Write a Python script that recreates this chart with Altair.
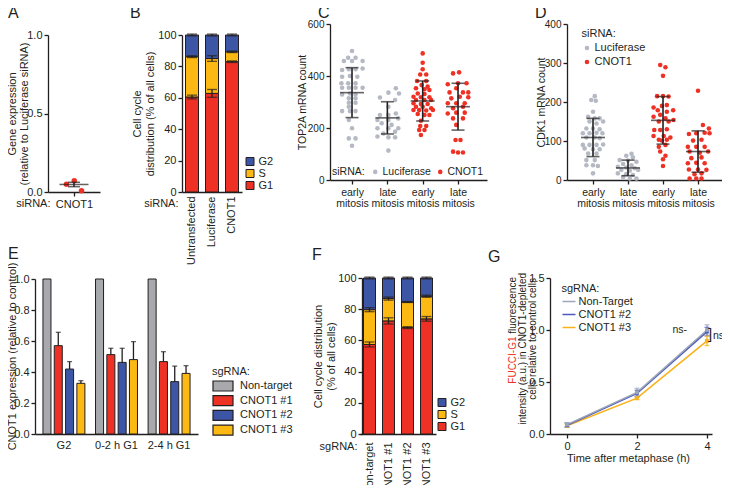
import json
import altair as alt
import pandas as pd

# ---------------- data ----------------
# A
a_categories = ["CNOT1"]
a_point_offsets = [-0.29, 0.01, 0.29]
a_point_values = [0.049, 0.072, 0.008]
a_mean = [0.048]
a_sem = [0.014]

# B
b_conditions = ["Untransfected", "Luciferase", "CNOT1"]
b_g1 = [60.5, 62.8, 83.0]
b_s = [25.7, 22.2, 6.3]
b_g2 = [13.8, 15.0, 10.7]
b_g1_err = [1.2, 2.5, 0.5]
b_s_err = [0.6, 1.8, 0.5]
b_g2_err = [0.6, 0.6, 0.6]
phases = ["G2", "S", "G1"]

# C (offset from category centre, value)
c_groups = ["early mitosis", "late mitosis", "early mitosis", "late mitosis"]
c_sirna = ["Luciferase", "Luciferase", "CNOT1", "CNOT1"]
c_luc_early = [(0, 496), (-0.11, 470), (0.10, 470), (-0.23, 458), (0, 458), (0.30, 458), (-0.28, 423),
               (-0.09, 426), (0.10, 426), (0.30, 429), (-0.28, 397), (-0.06, 400), (0.15, 397), (-0.30, 372),
               (-0.11, 372), (0.10, 372), (-0.28, 355), (-0.09, 355), (0.10, 355), (0.30, 355), (-0.28, 329),
               (-0.06, 333), (0.10, 329), (-0.09, 314), (0.10, 314), (-0.09, 297), (0.10, 297), (-0.09, 282),
               (-0.28, 265), (-0.06, 265), (0.10, 265), (-0.09, 231), (0, 199), (-0.09, 160), (0.10, 160),
               (0, 132)]
c_luc_late = [(0.24, 353), (0.03, 336), (0.33, 333), (-0.21, 317), (0.22, 308), (0.03, 282), (-0.21, 250),
              (0.03, 250), (0.24, 256), (-0.28, 231), (0.03, 231), (0.31, 237), (-0.16, 218), (0.12, 212),
              (-0.28, 199), (0.03, 199), (0.31, 199), (-0.11, 179), (0.22, 186), (-0.28, 167), (0.03, 164),
              (0.22, 164), (0.03, 113)]
c_cnot_early = [(0, 487), (0, 451), (0, 426), (-0.07, 406), (0.10, 406), (-0.16, 381), (0.10, 381),
                (-0.03, 365), (0.14, 359), (-0.19, 353), (0.05, 349), (0.19, 346), (-0.14, 333), (0.05, 331),
                (-0.26, 320), (-0.05, 318), (0.19, 318), (-0.19, 308), (0.05, 308), (0.24, 308), (-0.26, 295),
                (-0.05, 292), (0.14, 292), (-0.19, 282), (0, 282), (0.24, 276), (-0.26, 269), (-0.10, 269),
                (0.10, 267), (0.29, 269), (-0.14, 254), (0.05, 250), (0.19, 250), (-0.05, 228), (-0.07, 208),
                (0.10, 208), (-0.10, 192), (0.05, 192), (-0.05, 173)]
c_cnot_late = [(-0.14, 410), (0.03, 414), (-0.29, 368), (0, 372), (0.24, 372), (-0.24, 337), (-0.05, 353),
               (0.14, 337), (0.29, 337), (-0.19, 314), (0.05, 320), (0.29, 318), (-0.29, 295), (-0.05, 295),
               (0.19, 295), (-0.14, 276), (0.14, 282), (-0.29, 256), (-0.05, 259), (0.19, 259), (-0.14, 237),
               (0.14, 237), (-0.05, 212), (-0.07, 154), (0.07, 154), (-0.14, 109), (0, 106), (0.14, 106)]
c_mean = [336, 239, 304, 282]
c_sd = [96, 62, 77, 90]

# D
d_luc_early = [(0.05, 215), (-0.05, 205), (0.08, 203), (0, 175), (-0.14, 162), (0.05, 158), (0.19, 158),
               (-0.10, 150), (0.10, 145), (0.29, 150), (-0.19, 132), (0, 132), (0.19, 130), (-0.29, 120),
               (-0.10, 120), (0.10, 121), (0.27, 120), (-0.19, 109), (0.05, 109), (0.19, 107), (-0.29, 90),
               (-0.10, 90), (0.10, 90), (0.29, 91), (-0.24, 81), (0, 79), (0.19, 79), (-0.14, 68), (0.10, 68),
               (-0.19, 51), (0.05, 51), (-0.19, 38), (0, 38), (0.14, 36), (0, 17)]
d_luc_late = [(0.10, 67), (-0.05, 62), (0.14, 58), (-0.24, 51), (0, 50), (0.24, 47), (-0.14, 41), (0.10, 38),
              (-0.29, 34), (-0.05, 32), (0.19, 30), (-0.19, 26), (0.05, 24), (0.29, 26), (-0.29, 17),
              (-0.05, 15), (0.14, 13), (-0.14, 7), (0.05, 4), (0.24, 4)]
d_cnot_early = [(-0.08, 295), (0.07, 289), (0, 267), (-0.17, 215), (0, 215), (0.16, 214), (-0.27, 186),
                (-0.03, 190), (0.11, 192), (-0.15, 179), (0.11, 175), (0.29, 179), (-0.27, 162), (-0.08, 167),
                (0.07, 158), (-0.12, 150), (0.16, 150), (0.30, 154), (-0.25, 128), (-0.08, 128), (0.11, 130),
                (-0.27, 113), (0.02, 113), (0.21, 109), (-0.12, 103), (-0.03, 101), (0.11, 103), (-0.12, 85),
                (0.07, 90), (-0.08, 73), (0.07, 62), (0, 53), (0, 36)]
d_cnot_late = [(0, 229), (0.14, 141), (0.31, 132), (-0.26, 118), (-0.05, 120), (0.19, 121), (0.33, 120),
               (-0.14, 101), (0.10, 103), (-0.29, 85), (-0.05, 85), (0.19, 85), (-0.24, 73), (0.05, 70),
               (0.29, 73), (-0.19, 56), (0.10, 58), (-0.29, 43), (-0.05, 44), (0.19, 43), (-0.26, 27), (0, 27),
               (0.24, 26), (-0.10, 15), (0.10, 17), (-0.24, 4), (-0.05, 4), (0.10, 4)]
d_mean = [109, 31, 153, 73]
d_sd = [49, 20, 61, 53]
sirna_names = ["Luciferase", "CNOT1"]

# E
e_groups = ["G2", "0-2 h G1", "2-4 h G1"]
e_series = ["Non-target", "CNOT1 #1", "CNOT1 #2", "CNOT1 #3"]
e_nontarget = [1.0, 1.0, 1.0]
e_cnot1_1 = [0.570, 0.512, 0.467]
e_cnot1_2 = [0.419, 0.462, 0.338]
e_cnot1_3 = [0.327, 0.480, 0.391]
e_nontarget_err = [0, 0, 0]
e_cnot1_1_err = [0.086, 0.041, 0.064]
e_cnot1_2_err = [0.048, 0.091, 0.100]
e_cnot1_3_err = [0.017, 0.116, 0.050]

# F
f_conditions = ["Non-target", "CNOT1 #1", "CNOT1 #2", "CNOT1 #3"]
f_g1 = [57.4, 72.5, 68.2, 73.8]
f_s = [22.3, 14.3, 16.4, 14.5]
f_g2 = [20.3, 13.2, 15.4, 11.7]
f_g1_err = [1.6, 2.0, 0.6, 1.5]
f_s_err = [1.3, 1.0, 0.3, 0.7]
f_g2_err = [0.6, 0.6, 0.6, 0.6]

# G
g_time = [0, 2, 4]
g_series = ["Non-Target", "CNOT1 #2", "CNOT1 #3"]
g_nontarget = [0.09, 0.40, 1.00]
g_cnot1_2 = [0.085, 0.39, 0.985]
g_cnot1_3 = [0.08, 0.345, 0.895]
g_nontarget_err = [0.02, 0.04, 0.05]
g_cnot1_2_err = [0.02, 0.03, 0.04]
g_cnot1_3_err = [0.015, 0.015, 0.045]

# ---------------- style / layout ----------------
W, H = 714, 477
MARGIN = 8
INK = "#231f20"
FONT = "Liberation Sans"
RED = "#ee3124"
YELLOW = "#fdb913"
BLUE = "#3d55a5"
GREY_BAR = "#a7a9ac"
GREY_PT = "#b4b9c4"
GREY_LINE = "#9ea6ba"
BLUE_LINE = "#4a5bbd"
YELLOW_LINE = "#f9b21b"
PHASE_COLORS = [BLUE, YELLOW, RED]


def px(v):
    return v - MARGIN


def scale_q(domain, rng):
    return alt.Scale(domain=domain, range=[px(r) for r in rng], nice=False, zero=False)


def left_axis(x, values, fs, fmt=None, title=None, tx=None, ty=None, tfs=11, tlh=None):
    kw = dict(orient="left", offset=-px(x), values=values, tickSize=4, labelFontSize=fs, labelPadding=2)
    if fmt:
        kw["format"] = fmt
    if title is None:
        kw["title"] = None
    else:
        kw.update(title=title, titleX=tx - x, titleY=px(ty), titleAngle=270, titleAlign="center",
                  titleBaseline="middle", titleFontSize=tfs)
        if tlh:
            kw["titleLineHeight"] = tlh
    return alt.Axis(**kw)


def bottom_axis(y, fs, values=None, ticks=True, label_pad=2, label_angle=0, label_expr=None,
                title=None, tx=None, ty=None, tfs=11, talign="center", lh=None):
    kw = dict(orient="bottom", offset=px(y) - H, labelFontSize=fs, labelPadding=label_pad, labelAngle=label_angle)
    if values is not None:
        kw["values"] = values
    if ticks:
        kw["tickSize"] = 4
    else:
        kw.update(ticks=False, tickSize=0)
    if label_expr:
        kw["labelExpr"] = label_expr
    if lh:
        kw["labelLineHeight"] = lh
    if title is None:
        kw["title"] = None
    else:
        kw.update(title=title, titleX=px(tx), titleY=ty - y, titleAngle=0, titleAlign=talign,
                  titleBaseline="middle", titleFontSize=tfs)
    return alt.Axis(**kw)


def summary_layers(df, xenc, ys, yax, mean_w, cap_w, th=1.6):
    yv = lambda f: alt.Y(f, scale=ys, axis=yax)
    rule = alt.Chart(df).mark_rule(color=INK, strokeWidth=th).encode(x=xenc, y=yv("lo:Q"), y2="hi:Q")
    mean = alt.Chart(df).mark_tick(orient="horizontal", size=mean_w, thickness=th, color=INK).encode(
        x=xenc, y=yv("m:Q"))
    cap1 = alt.Chart(df).mark_tick(orient="horizontal", size=cap_w, thickness=th, color=INK).encode(
        x=xenc, y=yv("lo:Q"))
    cap2 = alt.Chart(df).mark_tick(orient="horizontal", size=cap_w, thickness=th, color=INK).encode(
        x=xenc, y=yv("hi:Q"))
    return [rule, mean, cap1, cap2]


# ---------------- panel A ----------------
a_df = pd.DataFrame({"x": a_point_offsets, "v": a_point_values})
a_st = pd.DataFrame({"x": [0.0], "m": a_mean, "lo": [a_mean[0] - a_sem[0]], "hi": [a_mean[0] + a_sem[0]]})
a_xs = scale_q([-1, 1], [48, 100])
a_ys = scale_q([0, 1], [192, 35])
a_xax = bottom_axis(192, 11, values=[0], label_expr=f"{json.dumps(a_categories)}[datum.value]",
                    title="siRNA:", tx=50, ty=203, talign="right")
a_yax = left_axis(48, [0, 0.5, 1], 11, fmt=".1f", title=["Gene expression", "(relative to Luciferase siRNA)"],
                  tx=12, ty=113.5, tfs=11, tlh=12)
a_x = alt.X("x:Q", scale=a_xs, axis=a_xax)
panel_a = alt.layer(
    alt.Chart(a_df).mark_circle(size=30, color=RED, opacity=1).encode(x=a_x, y=alt.Y("v:Q", scale=a_ys, axis=a_yax)),
    *summary_layers(a_st, a_x, a_ys, a_yax, 29, 12, 1.5),
)


# ---------------- stacked panels B and F ----------------
def stacked_frame(conds, g1, s, g2, e1, es, e2):
    rows = []
    for i, c in enumerate(conds):
        lo = 0.0
        for ph, v, e in (("G1", g1[i], e1[i]), ("S", s[i], es[i]), ("G2", g2[i], e2[i])):
            hi = lo + v
            rows.append(dict(cond=c, phase=ph, lo=lo, hi=hi, elo=hi - e, ehi=hi + e))
            lo = hi
    return pd.DataFrame(rows)


def stacked_panel(df, conds, xs, xax, ys, yax, bar_w, cap_w, legend):
    xenc = alt.X("cond:N", scale=xs, axis=xax, sort=conds)
    yv = lambda f: alt.Y(f, scale=ys, axis=yax)
    bars = alt.Chart(df).mark_bar(size=bar_w, stroke=INK, strokeWidth=1).encode(
        x=xenc, y=yv("lo:Q"), y2="hi:Q",
        color=alt.Color("phase:N", scale=alt.Scale(domain=phases, range=PHASE_COLORS), legend=legend))
    rule = alt.Chart(df).mark_rule(color=INK, strokeWidth=1.3).encode(x=xenc, y=yv("elo:Q"), y2="ehi:Q")
    c1 = alt.Chart(df).mark_tick(orient="horizontal", size=cap_w, thickness=1.3, color=INK).encode(x=xenc, y=yv("elo:Q"))
    c2 = alt.Chart(df).mark_tick(orient="horizontal", size=cap_w, thickness=1.3, color=INK).encode(x=xenc, y=yv("ehi:Q"))
    return alt.layer(bars, rule, c1, c2)


def phase_legend(lx, ly, row_pad):
    return alt.Legend(orient="none", legendX=px(lx), legendY=px(ly), title=None, symbolType="square",
                      symbolSize=64, symbolStrokeColor=INK, symbolStrokeWidth=1, labelFontSize=11,
                      labelOffset=3, rowPadding=row_pad, padding=0)


b_df = stacked_frame(b_conditions, b_g1, b_s, b_g2, b_g1_err, b_s_err, b_g2_err)
b_xs = alt.Scale(domain=b_conditions, range=[px(182), px(242)], paddingInner=0, paddingOuter=0)
b_ys = scale_q([0, 100], [192, 35])
b_xax = bottom_axis(192, 11, ticks=False, label_pad=4, label_angle=270, title="siRNA:", tx=178, ty=203, talign="right")
b_yax = left_axis(182, [0, 20, 40, 60, 80, 100], 11, title=["Cell cycle", "distribution (% of all cells)"],
                  tx=137, ty=113.5, tfs=11, tlh=13)
panel_b = stacked_panel(b_df, b_conditions, b_xs, b_xax, b_ys, b_yax, 13, 10, phase_legend(244.5, 156, -3.3))

f_df = stacked_frame(f_conditions, f_g1, f_s, f_g2, f_g1_err, f_s_err, f_g2_err)
f_xs = alt.Scale(domain=f_conditions, range=[px(360), px(436)], paddingInner=0, paddingOuter=0)
f_ys = scale_q([0, 100], [434, 278])
f_xax = bottom_axis(434, 11, ticks=False, label_pad=8, label_angle=270, title="sgRNA:", tx=357, ty=446, talign="right")
f_yax = left_axis(362, [0, 20, 40, 60, 80, 100], 11, title=["Cell cycle distribution", "(% of all cells)"],
                  tx=318, ty=356, tfs=11, tlh=13)
panel_f = stacked_panel(f_df, f_conditions, f_xs, f_xax, f_ys, f_yax, 12, 10, phase_legend(436.5, 397, -2.5))


# ---------------- scatter panels C and D ----------------
def scatter_frames(groups, means, sds):
    rows = []
    for gi, (pts, sirna) in enumerate(groups):
        for off, v in pts:
            rows.append({"x": gi + off, "v": v, "siRNA": sirna})
    st = pd.DataFrame({"x": list(range(len(means))), "m": means,
                       "lo": [m - s for m, s in zip(means, sds)], "hi": [m + s for m, s in zip(means, sds)]})
    return pd.DataFrame(rows), st


cat_expr = "split(" + json.dumps(c_groups) + "[datum.value], ' ')"


def scatter_panel(df, st, xs, xax, ys, yax, legend):
    xenc = alt.X("x:Q", scale=xs, axis=xax)
    pts = alt.Chart(df).mark_circle(size=21, opacity=1).encode(
        x=xenc, y=alt.Y("v:Q", scale=ys, axis=yax),
        color=alt.Color("siRNA:N", scale=alt.Scale(domain=sirna_names, range=[GREY_PT, RED]), legend=legend))
    return alt.layer(pts, *summary_layers(st, xenc, ys, yax, 24, 13, 1.6))


c_df, c_st = scatter_frames([(c_luc_early, c_sirna[0]), (c_luc_late, c_sirna[1]),
                             (c_cnot_early, c_sirna[2]), (c_cnot_late, c_sirna[3])], c_mean, c_sd)
c_xs = scale_q([-0.623, 3.82], [330, 487])
c_ys = scale_q([0, 600], [180, 24])
c_xax = bottom_axis(180, 10.5, values=[0, 1, 2, 3], label_expr=cat_expr, lh=11, label_pad=3)
c_yax = left_axis(330, [0, 200, 400, 600], 10, title="TOP2A mRNA count", tx=302, ty=102, tfs=10.5)
c_legend = alt.Legend(orient="none", legendX=px(332), legendY=px(166.5), direction="horizontal", title="siRNA:",
                      titleOrient="left", titleFontSize=10.5, labelFontSize=10.5, symbolType="circle",
                      symbolSize=21, labelOffset=2, columnPadding=4, titlePadding=5, padding=0)
panel_c = scatter_panel(c_df, c_st, c_xs, c_xax, c_ys, c_yax, c_legend)

d_df, d_st = scatter_frames([(d_luc_early, c_sirna[0]), (d_luc_late, c_sirna[1]),
                             (d_cnot_early, c_sirna[2]), (d_cnot_late, c_sirna[3])], d_mean, d_sd)
d_xs = scale_q([-0.743, 3.914], [567, 730])
d_ys = scale_q([0, 400], [180, 24])
d_xax = bottom_axis(180, 10.5, values=[0, 1, 2, 3], label_expr=cat_expr, lh=11, label_pad=3)
d_yax = left_axis(567, [0, 100, 200, 300, 400], 10, title="CDK1 mRNA count", tx=541, ty=102, tfs=10.5)
d_legend = alt.Legend(orient="none", legendX=px(581.5), legendY=px(27.5), direction="vertical", title="siRNA:",
                      titleFontSize=11, labelFontSize=11, symbolType="circle", symbolSize=21, labelOffset=2,
                      titlePadding=4, rowPadding=2, padding=0)
panel_d = scatter_panel(d_df, d_st, d_xs, d_xax, d_ys, d_yax, d_legend)

# ---------------- panel E ----------------
e_rows = []
for s_name, vals, errs in zip(e_series, [e_nontarget, e_cnot1_1, e_cnot1_2, e_cnot1_3],
                              [e_nontarget_err, e_cnot1_1_err, e_cnot1_2_err, e_cnot1_3_err]):
    for g, v, e in zip(e_groups, vals, errs):
        e_rows.append({"group": g, "series": s_name, "v": v, "top": v + e, "err": e})
e_df = pd.DataFrame(e_rows)
e_err_df = e_df[e_df["err"] > 0]
e_xs = alt.Scale(domain=e_groups, range=[px(35), px(198)], paddingInner=0, paddingOuter=0.05)
e_xo = alt.Scale(domain=e_series, paddingInner=0.29, paddingOuter=0.47)
e_ys = alt.Scale(domain=[0, 1], range=[px(434), px(279)], nice=False)
e_xax = bottom_axis(434, 11, ticks=False, label_pad=5)
e_yax = left_axis(35, [0, 0.2, 0.4, 0.6, 0.8, 1.0], 11, fmt=".1f", title="CNOT1 expression (relative to control)",
                  tx=12, ty=356, tfs=11)
e_x = alt.X("group:N", scale=e_xs, axis=e_xax, sort=e_groups)
e_off = alt.XOffset("series:N", scale=e_xo, sort=e_series)
e_legend = alt.Legend(orient="none", legendX=px(212), legendY=px(366), title="sgRNA:", titleFontSize=11,
                      labelFontSize=11, symbolType="M-1,-1H3V1H-1Z", symbolSize=100, symbolStrokeColor=INK,
                      symbolStrokeWidth=1.2, labelOffset=16, rowPadding=-1.3, titlePadding=3, padding=0)
panel_e = alt.layer(
    alt.Chart(e_df).mark_bar(stroke=INK, strokeWidth=1).encode(
        x=e_x, xOffset=e_off, y=alt.Y("v:Q", scale=e_ys, axis=e_yax),
        color=alt.Color("series:N", scale=alt.Scale(domain=e_series, range=[GREY_BAR, RED, BLUE, YELLOW]),
                        legend=e_legend)),
    alt.Chart(e_err_df).mark_rule(color=INK, strokeWidth=1.3).encode(
        x=e_x, xOffset=e_off, y=alt.Y("v:Q", scale=e_ys, axis=e_yax), y2="top:Q"),
    alt.Chart(e_err_df).mark_tick(orient="horizontal", size=5, thickness=1.3, color=INK).encode(
        x=e_x, xOffset=e_off, y=alt.Y("top:Q", scale=e_ys, axis=e_yax)),
)

# ---------------- panel G ----------------
g_rows = []
for s_name, vals, errs in [("CNOT1 #3", g_cnot1_3, g_cnot1_3_err), ("CNOT1 #2", g_cnot1_2, g_cnot1_2_err),
                           ("Non-Target", g_nontarget, g_nontarget_err)]:
    for t, v, e in zip(g_time, vals, errs):
        g_rows.append({"t": t, "v": v, "lo": v - e, "hi": v + e, "s": s_name})
g_df = pd.DataFrame(g_rows)
g_xs = scale_q([-0.486, 4.143], [550, 712])
g_ys = scale_q([0, 1.5], [434, 278])
g_xax = bottom_axis(434, 11, values=g_time, title="Time after metaphase (h)", tx=628, ty=458, tfs=11)
g_yax = left_axis(550, [0, 0.5, 1.0, 1.5], 11, fmt=".1f")
g_color_scale = alt.Scale(domain=g_series, range=[GREY_LINE, BLUE_LINE, YELLOW_LINE])
g_legend = alt.Legend(orient="none", legendX=px(561.5), legendY=px(283), title="sgRNA:", titleFontSize=11,
                      labelFontSize=11, symbolType="stroke", symbolSize=169, symbolStrokeWidth=1.5,
                      labelOffset=2, rowPadding=-1, titlePadding=0, padding=0)
g_x = alt.X("t:Q", scale=g_xs, axis=g_xax)
g_col = alt.Color("s:N", scale=g_color_scale, legend=g_legend)
g_colnl = alt.Color("s:N", scale=g_color_scale, legend=None)
panel_g = alt.layer(
    alt.Chart(g_df).mark_line(strokeWidth=1.6).encode(x=g_x, y=alt.Y("v:Q", scale=g_ys, axis=g_yax), color=g_col),
    alt.Chart(g_df).mark_rule(strokeWidth=1.3).encode(x=g_x, y=alt.Y("lo:Q", scale=g_ys, axis=g_yax), y2="hi:Q", color=g_colnl),
    alt.Chart(g_df).mark_tick(orient="horizontal", size=5, thickness=1.3).encode(
        x=g_x, y=alt.Y("lo:Q", scale=g_ys, axis=g_yax), color=g_colnl),
    alt.Chart(g_df).mark_tick(orient="horizontal", size=5, thickness=1.3).encode(
        x=g_x, y=alt.Y("hi:Q", scale=g_ys, axis=g_yax), color=g_colnl),
    alt.Chart(g_df).mark_point(shape="square", filled=True, size=14, opacity=1).encode(
        x=g_x, y=alt.Y("v:Q", scale=g_ys, axis=g_yax), color=g_colnl),
)

# ---------------- free text ----------------
ONE = pd.DataFrame({"k": [0]})


def label(txt, x, y, size=11, color=INK, align="left", baseline="middle", angle=0):
    kw = dict(text=txt, font=FONT, fontSize=size, color=color, align=align, baseline=baseline)
    if angle:
        kw["angle"] = angle
    return alt.Chart(ONE).mark_text(**kw).encode(x=alt.value(px(x)), y=alt.value(px(y)))


TFS = 10
texts = [
    label("A", 8, 13, 16), label("B", 130, 13, 16), label("C", 318, 13, 16), label("D", 535, 13, 16),
    label("E", 8, 254, 16), label("F", 312, 255, 16), label("G", 488, 257, 16),
    label("fluorescence", 513, 277, TFS, align="right", angle=270),
    label("FUCCI-G1", 513, 277 + 5.947 * TFS, TFS, color=RED, align="right", angle=270),
    label("intensity (a.u.) in CNOT1-depleted", 523, 273, TFS, align="right", angle=270),
    label("cells relative to control cells", 533, 278, TFS, align="right", angle=270),
    label("ns-", 687, 330, 10.5, align="right"),
    label("]", 708, 334, 15),
    label("ns", 713, 336, 10.5),
]

chart = alt.layer(
    panel_a, panel_b, panel_c, panel_d, panel_e, panel_f, panel_g, *texts
).resolve_scale(
    x="independent", y="independent", color="independent", xOffset="independent"
).properties(
    width=W, height=H, padding=0, autosize=alt.AutoSizeParams(type="none")
).configure_view(stroke=None).configure_axis(
    grid=False, domainColor=INK, tickColor=INK, labelColor=INK, titleColor=INK, labelFont=FONT, titleFont=FONT,
    titleFontWeight="normal", domainWidth=1.3, tickWidth=1.3, labelFlush=False, labelOverlap=False
).configure_legend(
    labelFont=FONT, titleFont=FONT, labelColor=INK, titleColor=INK, titleFontWeight="normal"
)

chart.save("out.html", embed_options={"renderer": "svg", "actions": False})
